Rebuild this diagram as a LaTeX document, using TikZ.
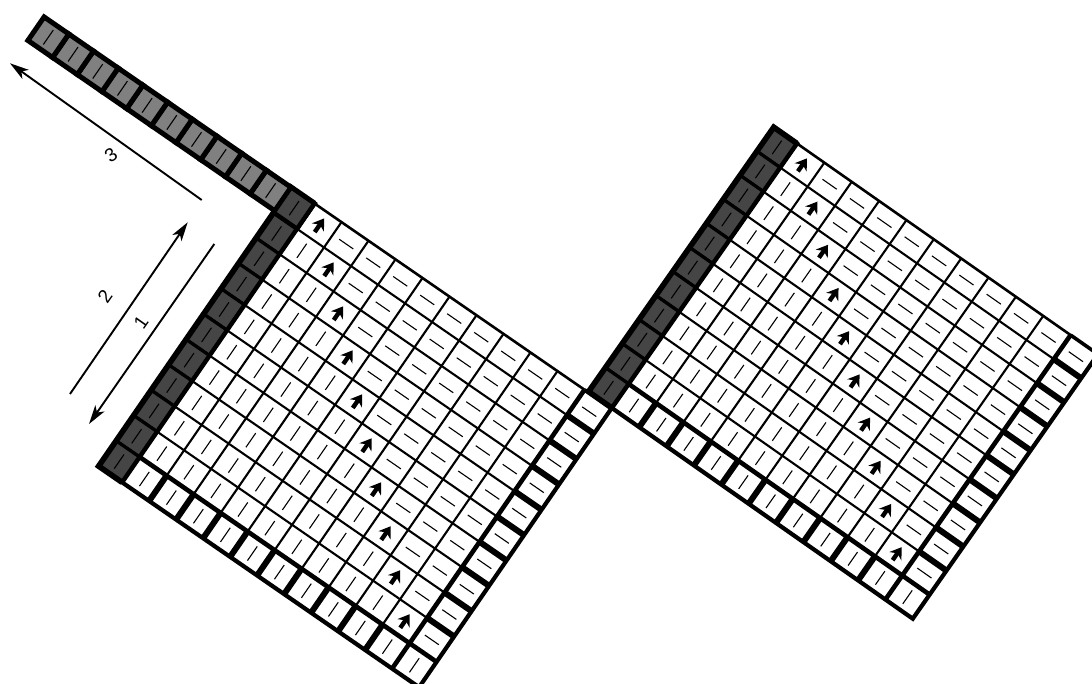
\documentclass[tikz,border=0pt]{standalone}
\usepackage{fontspec}
\setmainfont{Liberation Sans}
\usetikzlibrary{arrows.meta}
\definecolor{darkcell}{gray}{0.27}
\definecolor{graycell}{gray}{0.5}
\tikzset{
  thinline/.style={line width=2.1pt,line cap=butt},
  heavyline/.style={line width=4.6pt,line cap=butt},
  sepline/.style={line width=6pt,line cap=butt},
  outline/.style={line width=4.2pt,line join=miter},
  tick/.style={line width=1.1pt},
  darkbox/.style={fill=darkcell,draw=black,line width=3.2pt,line join=miter},
  graybox/.style={fill=graycell,draw=black,line width=5pt,line join=miter},
  cellarrow/.style={line width=4.4pt,-{Stealth[length=11pt,width=14.5pt,inset=3.5pt]}},
  dimarrow/.style={line width=1.9pt,-{Stealth[length=19pt,width=11pt,inset=5pt]}},
  dimlabel/.style={font=\fontsize{19}{19}\selectfont,inner sep=0pt}
}
\newcommand\cellgrid[6]{%
\begin{scope}[shift={(#1,#2)},x={({#4*cos(#3)*1pt},{-#4*sin(#3)*1pt})},y={({-#5*sin(#3)*1pt},{-#5*cos(#3)*1pt})}]
  \fill[white] (0,0)--(11,0)--(11,11)--(0,11)--cycle;
  % interior rules
  \foreach \i in {1,...,9} \draw[thinline] (\i,0)--(\i,10);
  \foreach \j in {1,...,9} \draw[thinline] (0,\j)--(10,\j);
  \draw[line width=2.6pt] (0,0)--(10,0);
  \draw[line width=3.6pt] (10,0)--(11,0);
  % ticks
  \foreach \i in {0,...,9} \foreach \j in {0,...,9} {
    \ifnum\i=\j\relax
      \draw[cellarrow] ({\i+.5},{\j+.76}) -- ({\i+.5},{\j+.22});
    \else\ifnum\i<\j\relax
      \draw[tick] ({\i+.5},{\j+.22}) -- ({\i+.5},{\j+.78});
    \else
      \draw[tick] ({\i+.24},{\j+.5}) -- ({\i+.76},{\j+.5});
    \fi\fi
  }
  \foreach \i in {0,...,10} \draw[tick] ({\i+.5},10.22) -- ({\i+.5},10.78);
  \foreach \j in {0,...,9} \draw[tick] (10.24,{\j+.5}) -- (10.76,{\j+.5});
  % heavy rules
  \draw[heavyline] (0,10)--(11,10);
  \draw[heavyline] (10,0)--(10,11);
  \foreach \i in {1,...,9} \draw[sepline] (\i,10)--(\i,11);
  \foreach \j in {1,...,9} \draw[sepline] (10,\j)--(11,\j);
  \draw[outline] (0,11)--(11,11)--(11,0);
  % dark column
  \foreach \j in {0,...,10} {
    \draw[darkbox] (-#6,\j)--(0,\j)--(0,{\j+1})--(-#6,{\j+1})--cycle;
    \draw[tick] ({-#6/2},{\j+.22}) -- ({-#6/2},{\j+.78});
  }
  \draw[line width=5.6pt,line join=miter,miter limit=20] (0,0)--(-#6,0)--(-#6,11)--(0,11);
  \draw[line width=4.4pt] (0,-.07)--(0,11);
\end{scope}}
\begin{document}
\begin{tikzpicture}[x=1pt,y=-1pt]
\useasboundingbox (0,0) rectangle (1092,684);
\cellgrid{314.5}{203.5}{34.6}{32.8}{30.8}{0.87}
% grey strip of the left grid
\begin{scope}[shift={(314.5,203.5)},x={({30*cos(34.6)*1pt},{-30*sin(34.6)*1pt})},y={({-30.7*sin(34.6)*1pt},{-30.7*cos(34.6)*1pt})}]
  \foreach \k in {1,...,10} {
    \draw[graybox] ({-.95-\k},0)--({.05-\k},0)--({.05-\k},.93)--({-.95-\k},.93)--cycle;
    \draw[tick] ({-.45-\k},.18) -- ({-.45-\k},.75);
  }
  \draw[darkbox,line width=4.4pt] (-.95,0)--(0,0)--(0,1)--(-.95,1)--cycle;
  \draw[tick] (-.47,.22) -- (-.47,.78);
\end{scope}
\cellgrid{797}{143.5}{35}{33.4}{29.35}{0.85}
% dimension arrows
\coordinate (a1s) at (214.3,244);
\coordinate (a1e) at (89,424);
\coordinate (a2s) at (70,394);
\coordinate (a2e) at (187.7,222.3);
\coordinate (a3s) at (201.7,200);
\coordinate (a3e) at (10,63.3);
\draw[dimarrow] (a1s) -- (a1e);
\draw[dimarrow] (a2s) -- (a2e);
\draw[dimarrow] (a3s) -- (a3e);
\node[dimlabel,rotate=55] (lab1) at (141,322) {1};
\node[dimlabel,rotate=55] (lab2) at (105,296) {2};
\node[dimlabel,rotate=35] (lab3) at (111,155) {3};
\end{tikzpicture}
\end{document}
